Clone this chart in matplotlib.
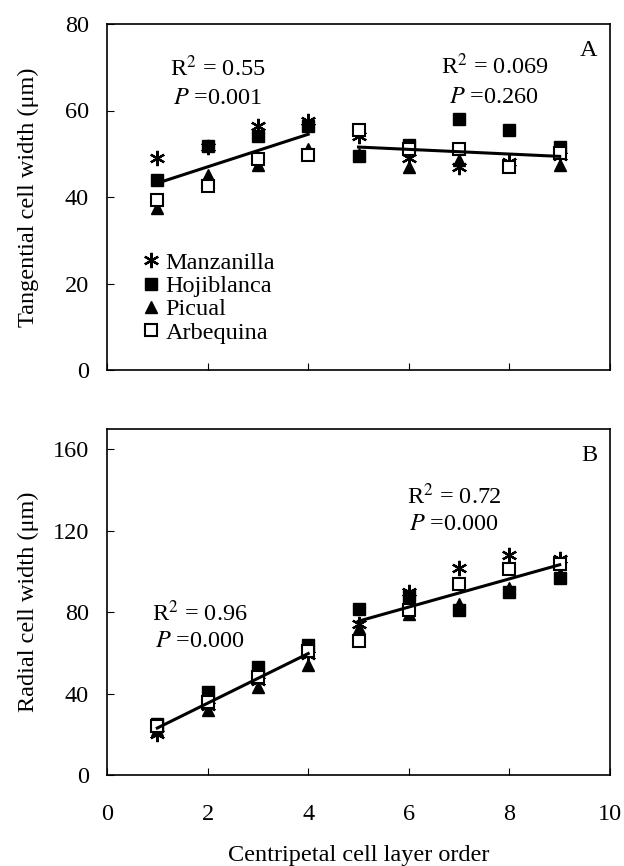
import numpy as np
import matplotlib
matplotlib.use("Agg")
import matplotlib.pyplot as plt
from matplotlib.lines import Line2D

plt.rcParams['font.family'] = ['Liberation Serif', 'DejaVu Serif']
plt.rcParams['mathtext.fontset'] = 'stix'
plt.rcParams['font.size'] = 17.5

# --- datos ---
capas = [1, 2, 3, 4, 5, 6, 7, 8, 9]
variedades = ['Manzanilla', 'Hojiblanca', 'Picual', 'Arbequina']

# A: ancho tangencial (um)
manz_tang = [49.0, 51.5, 56.5, 57.5, 54.0, 49.0, 47.0, 48.0, 49.5]
hoji_tang = [44.0, 51.7, 54.0, 56.5, 49.5, 52.0, 58.0, 55.5, 51.5]
pic_tang = [37.5, 45.0, 47.3, 51.0, 50.0, 47.0, 48.5, 47.5, 47.5]
arb_tang = [39.2, 42.6, 48.7, 49.7, 55.5, 51.0, 51.2, 47.0, 50.2]

# B: ancho radial (um)
manz_rad = [20.0, 34.0, 46.0, 59.0, 74.0, 90.0, 101.6, 108.0, 106.0]
hoji_rad = [25.0, 41.0, 53.0, 64.0, 81.6, 88.0, 81.0, 90.0, 97.0]
pic_rad = [22.0, 32.0, 43.0, 54.0, 72.0, 79.0, 84.0, 92.0, 99.0]
arb_rad = [24.0, 36.0, 48.0, 61.0, 66.0, 81.0, 94.0, 101.0, 103.7]

tramos = [(1, 4), (5, 9)]
textos_A = [('0.55', '0.001'), ('0.069', '0.260')]
textos_B = [('0.96', '0.000'), ('0.72', '0.000')]

estilos = [
    dict(marker=(6, 2, 0), color='black', markersize=11, markeredgewidth=1.6),
    dict(marker='s', color='black', markersize=8),
    dict(marker='^', color='black', markersize=9),
    dict(marker='s', markerfacecolor='white', markeredgecolor='black',
         markersize=8, markeredgewidth=1.5),
]


def dibujar(ax, series):
    x = np.array(capas)
    for serie, est in zip(series, estilos):
        ax.plot(x, serie, linestyle='none', zorder=3, **est)
    todos = np.array(series)
    for ini, fin in tramos:
        m = (x >= ini) & (x <= fin)
        xs = np.repeat(x[m][None, :], len(series), axis=0).ravel()
        ys = todos[:, m].ravel()
        p = np.polyfit(xs, ys, 1)
        xl = np.array([ini, fin])
        ax.plot(xl, np.polyval(p, xl), color='black', linewidth=2.2, zorder=4)
    ax.set_xlim(0, 10)
    ax.set_xticks([0, 2, 4, 6, 8, 10])
    ax.tick_params(axis='y', direction='in', length=5, width=0.8, pad=13)
    ax.tick_params(axis='x', direction='in', length=5, width=0.8, pad=21)
    for s in ax.spines.values():
        s.set_linewidth(1.2)
    ax.yaxis.set_label_coords(-0.135, 0.5)


fig = plt.figure(figsize=(6.24, 8.66), dpi=100)
axA = fig.add_axes([107 / 624, 1 - 370 / 866, 503 / 624, 346 / 866])
axB = fig.add_axes([107 / 624, 1 - 775 / 866, 503 / 624, 346 / 866])

dibujar(axA, [manz_tang, hoji_tang, pic_tang, arb_tang])
axA.set_ylim(0, 80)
axA.set_yticks([0, 20, 40, 60, 80])
axA.set_xticklabels([])
axA.set_ylabel('Tangential cell width (μm)')
axA.text(2.2, 69.7, 'R$^2$ = ' + textos_A[0][0], ha='center', va='center')
axA.text(2.2, 62.7, '$P$ =' + textos_A[0][1], ha='center', va='center')
axA.text(7.7, 70.3, 'R$^2$ = ' + textos_A[1][0], ha='center', va='center')
axA.text(7.7, 63.0, '$P$ =' + textos_A[1][1], ha='center', va='center')
axA.text(0.975, 0.955, 'A', transform=axA.transAxes, ha='right', va='top')

manejadores = [Line2D([], [], linestyle='none', **est) for est in estilos]
axA.legend(manejadores, variedades, loc='lower left', bbox_to_anchor=(0.034, 0.02),
           frameon=False, handlelength=0.6, handletextpad=0.3,
           labelspacing=0.05, borderpad=0.3, fontsize=17.5)

dibujar(axB, [manz_rad, hoji_rad, pic_rad, arb_rad])
axB.set_ylim(0, 170)
axB.set_yticks([0, 40, 80, 120, 160])
axB.set_ylabel('Radial cell width (μm)')
axB.set_xlabel('Centripetal cell layer order', labelpad=14)
axB.text(1.85, 79.2, 'R$^2$ = ' + textos_B[0][0], ha='center', va='center')
axB.text(1.85, 65.5, '$P$ =' + textos_B[0][1], ha='center', va='center')
axB.text(6.9, 137.0, 'R$^2$ = ' + textos_B[1][0], ha='center', va='center')
axB.text(6.9, 123.0, '$P$ =' + textos_B[1][1], ha='center', va='center')
axB.text(0.975, 0.955, 'B', transform=axB.transAxes, ha='right', va='top')

fig.savefig('out.png', dpi=100)
